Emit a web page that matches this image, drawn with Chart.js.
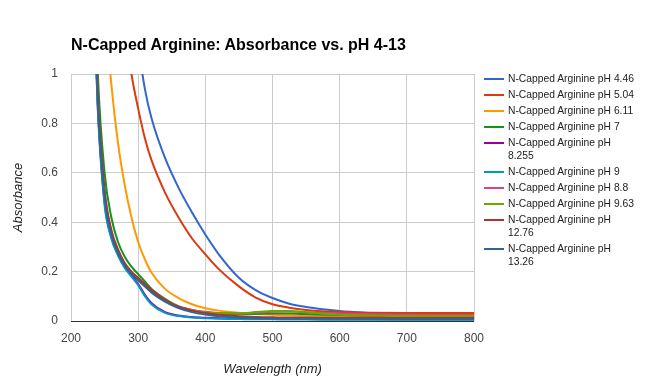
<!DOCTYPE html>
<html>
<head>
<meta charset="utf-8">
<script src="https://cdn.jsdelivr.net/npm/chart.js@4"></script>
<style>
  body { margin: 0; background: #fff; font-family: "Liberation Sans", Arial, sans-serif; }
  #wrap { position: relative; width: 645px; height: 389px; }
  #title { position: absolute; left: 71px; top: 36px; font: bold 16px "Liberation Sans", Arial, sans-serif; line-height: 18px; color: #000; white-space: nowrap; }
  #legend { position: absolute; left: 484px; top: 72px; }
  .item { display: flex; align-items: flex-start; margin-bottom: 3px; }
  .swatch { width: 20px; height: 2px; margin-top: 6px; flex: none; }
  .txt { margin-left: 4px; width: 130px; font-size: 10.3px; line-height: 13px; color: #222; }
</style>
</head>
<body>
<div id="wrap">
  <canvas id="myChart" width="645" height="389"></canvas>
  <div id="title">N-Capped Arginine: Absorbance vs. pH 4-13</div>
  <div id="legend"></div>
</div>
<script>
// wavelengths (nm) shared by all series
var wavelengths = [230, 240, 250, 260, 270, 280, 290, 300, 310, 320, 340, 360, 380, 400, 420, 450, 475, 500, 525, 550, 600, 650, 700, 750, 800];

var labels = ['N-Capped Arginine pH 4.46', 'N-Capped Arginine pH 5.04', 'N-Capped Arginine pH 6.11',
  'N-Capped Arginine pH 7', 'N-Capped Arginine pH 8.255', 'N-Capped Arginine pH 9',
  'N-Capped Arginine pH 8.8', 'N-Capped Arginine pH 9.63', 'N-Capped Arginine pH 12.76',
  'N-Capped Arginine pH 13.26'];

var colors = ['#3366cc', '#dc3912', '#ff9900', '#109618', '#990099', '#0099c6', '#dd4477', '#66aa00', '#b82e2e', '#316395'];

var ph446  = [3.5, 3.0, 2.6, 2.2, 1.9, 1.6, 1.35, 1.12, 0.94, 0.82, 0.66, 0.54, 0.44, 0.35, 0.27, 0.175, 0.125, 0.093, 0.07, 0.057, 0.04, 0.032, 0.026, 0.022, 0.02];
var ph504  = [3.0, 2.5, 2.1, 1.75, 1.45, 1.2, 1.0, 0.86, 0.74, 0.65, 0.52, 0.42, 0.335, 0.27, 0.21, 0.14, 0.095, 0.068, 0.054, 0.045, 0.036, 0.033, 0.032, 0.032, 0.032];
var ph611  = [2.2, 1.7, 1.3, 0.96, 0.72, 0.55, 0.42, 0.32, 0.25, 0.195, 0.13, 0.093, 0.068, 0.052, 0.042, 0.033, 0.028, 0.025, 0.023, 0.021, 0.019, 0.018, 0.017, 0.016, 0.015];
var ph7    = [1.9, 1.0, 0.6, 0.42, 0.32, 0.26, 0.22, 0.19, 0.16, 0.13, 0.09, 0.06, 0.045, 0.035, 0.03, 0.027, 0.028, 0.03, 0.03, 0.028, 0.024, 0.022, 0.02, 0.02, 0.02];
var ph8255 = [1.6, 0.86, 0.48, 0.34, 0.27, 0.22, 0.185, 0.15, 0.106, 0.072, 0.036, 0.022, 0.016, 0.013, 0.011, 0.01, 0.009, 0.008, 0.008, 0.008, 0.007, 0.007, 0.006, 0.006, 0.006];
var ph9    = [1.6, 0.85, 0.47, 0.335, 0.265, 0.215, 0.18, 0.145, 0.1, 0.067, 0.033, 0.02, 0.014, 0.011, 0.009, 0.008, 0.007, 0.007, 0.006, 0.006, 0.005, 0.005, 0.005, 0.005, 0.005];
var ph88   = [1.7, 0.9, 0.52, 0.36, 0.28, 0.23, 0.195, 0.17, 0.145, 0.125, 0.085, 0.058, 0.045, 0.037, 0.032, 0.03, 0.033, 0.037, 0.038, 0.035, 0.03, 0.027, 0.025, 0.024, 0.024];
var ph963  = [1.7, 0.9, 0.51, 0.355, 0.28, 0.23, 0.195, 0.17, 0.145, 0.12, 0.08, 0.055, 0.042, 0.035, 0.031, 0.031, 0.036, 0.04, 0.04, 0.035, 0.025, 0.022, 0.02, 0.02, 0.02];
var ph1276 = [1.75, 0.92, 0.53, 0.37, 0.29, 0.235, 0.2, 0.175, 0.15, 0.125, 0.085, 0.058, 0.042, 0.032, 0.025, 0.019, 0.016, 0.015, 0.014, 0.014, 0.013, 0.013, 0.012, 0.012, 0.012];
var ph1326 = [1.65, 0.88, 0.5, 0.35, 0.275, 0.225, 0.19, 0.165, 0.14, 0.115, 0.078, 0.052, 0.036, 0.026, 0.019, 0.013, 0.011, 0.01, 0.009, 0.009, 0.009, 0.008, 0.008, 0.008, 0.008];

var series = [ph446, ph504, ph611, ph7, ph8255, ph9, ph88, ph963, ph1276, ph1326];

var xTicks = [200, 300, 400, 500, 600, 700, 800];
var yTicks = [0, 0.2, 0.4, 0.6, 0.8, 1];

var datasets = series.map(function (vals, i) {
  return {
    label: labels[i],
    data: vals.map(function (v, j) { return { x: wavelengths[j], y: v }; }),
    borderColor: colors[i],
    backgroundColor: colors[i],
    borderWidth: 2,
    pointRadius: 0,
    cubicInterpolationMode: 'monotone',
    order: series.length - i
  };
});

var tickFont = { family: '"Liberation Sans", Arial, sans-serif', size: 12 };
var axisTitleFont = { family: '"Liberation Sans", Arial, sans-serif', size: 13, style: 'italic' };

var ctx = document.getElementById('myChart');
var myChart = new Chart(ctx, {
  type: 'line',
  data: { datasets: datasets },
  options: {
    responsive: false,
    devicePixelRatio: 1,
    animation: false,
    layout: { padding: { top: 74, right: 171, left: 0, bottom: 0 } },
    plugins: { legend: { display: false }, tooltip: { enabled: false } },
    scales: {
      x: {
        type: 'linear', min: 200, max: 800,
        afterBuildTicks: function (s) { s.ticks = xTicks.map(function (v) { return { value: v }; }); },
        afterFit: function (s) { s.height = 68; },
        border: { display: false },
        grid: { color: '#cccccc', drawTicks: false },
        ticks: { color: '#444', font: tickFont, padding: 10, maxRotation: 0 },
        title: { display: true, text: 'Wavelength (nm)', color: '#222', font: axisTitleFont, padding: { top: 0, bottom: 12.2 } }
      },
      y: {
        min: 0, max: 1,
        afterBuildTicks: function (s) { s.ticks = yTicks.map(function (v) { return { value: v }; }); },
        afterFit: function (s) { s.width = 71; },
        border: { display: false },
        grid: {
          drawTicks: false,
          color: function (c) { return c.tick && c.tick.value === 0 ? '#333333' : '#cccccc'; }
        },
        ticks: { color: '#444', font: tickFont, padding: 13, callback: function (v) { return String(v); } },
        title: { display: true, text: 'Absorbance', color: '#222', font: axisTitleFont, padding: { top: 10.5, bottom: 0 } }
      }
    }
  }
});

// html legend so long labels can wrap like the original
var legendBox = document.getElementById('legend');
myChart.data.datasets.forEach(function (ds) {
  var item = document.createElement('div');
  item.className = 'item';
  var sw = document.createElement('div');
  sw.className = 'swatch';
  sw.style.background = ds.borderColor;
  var t = document.createElement('div');
  t.className = 'txt';
  t.textContent = ds.label;
  item.appendChild(sw);
  item.appendChild(t);
  legendBox.appendChild(item);
});
</script>
</body>
</html>
